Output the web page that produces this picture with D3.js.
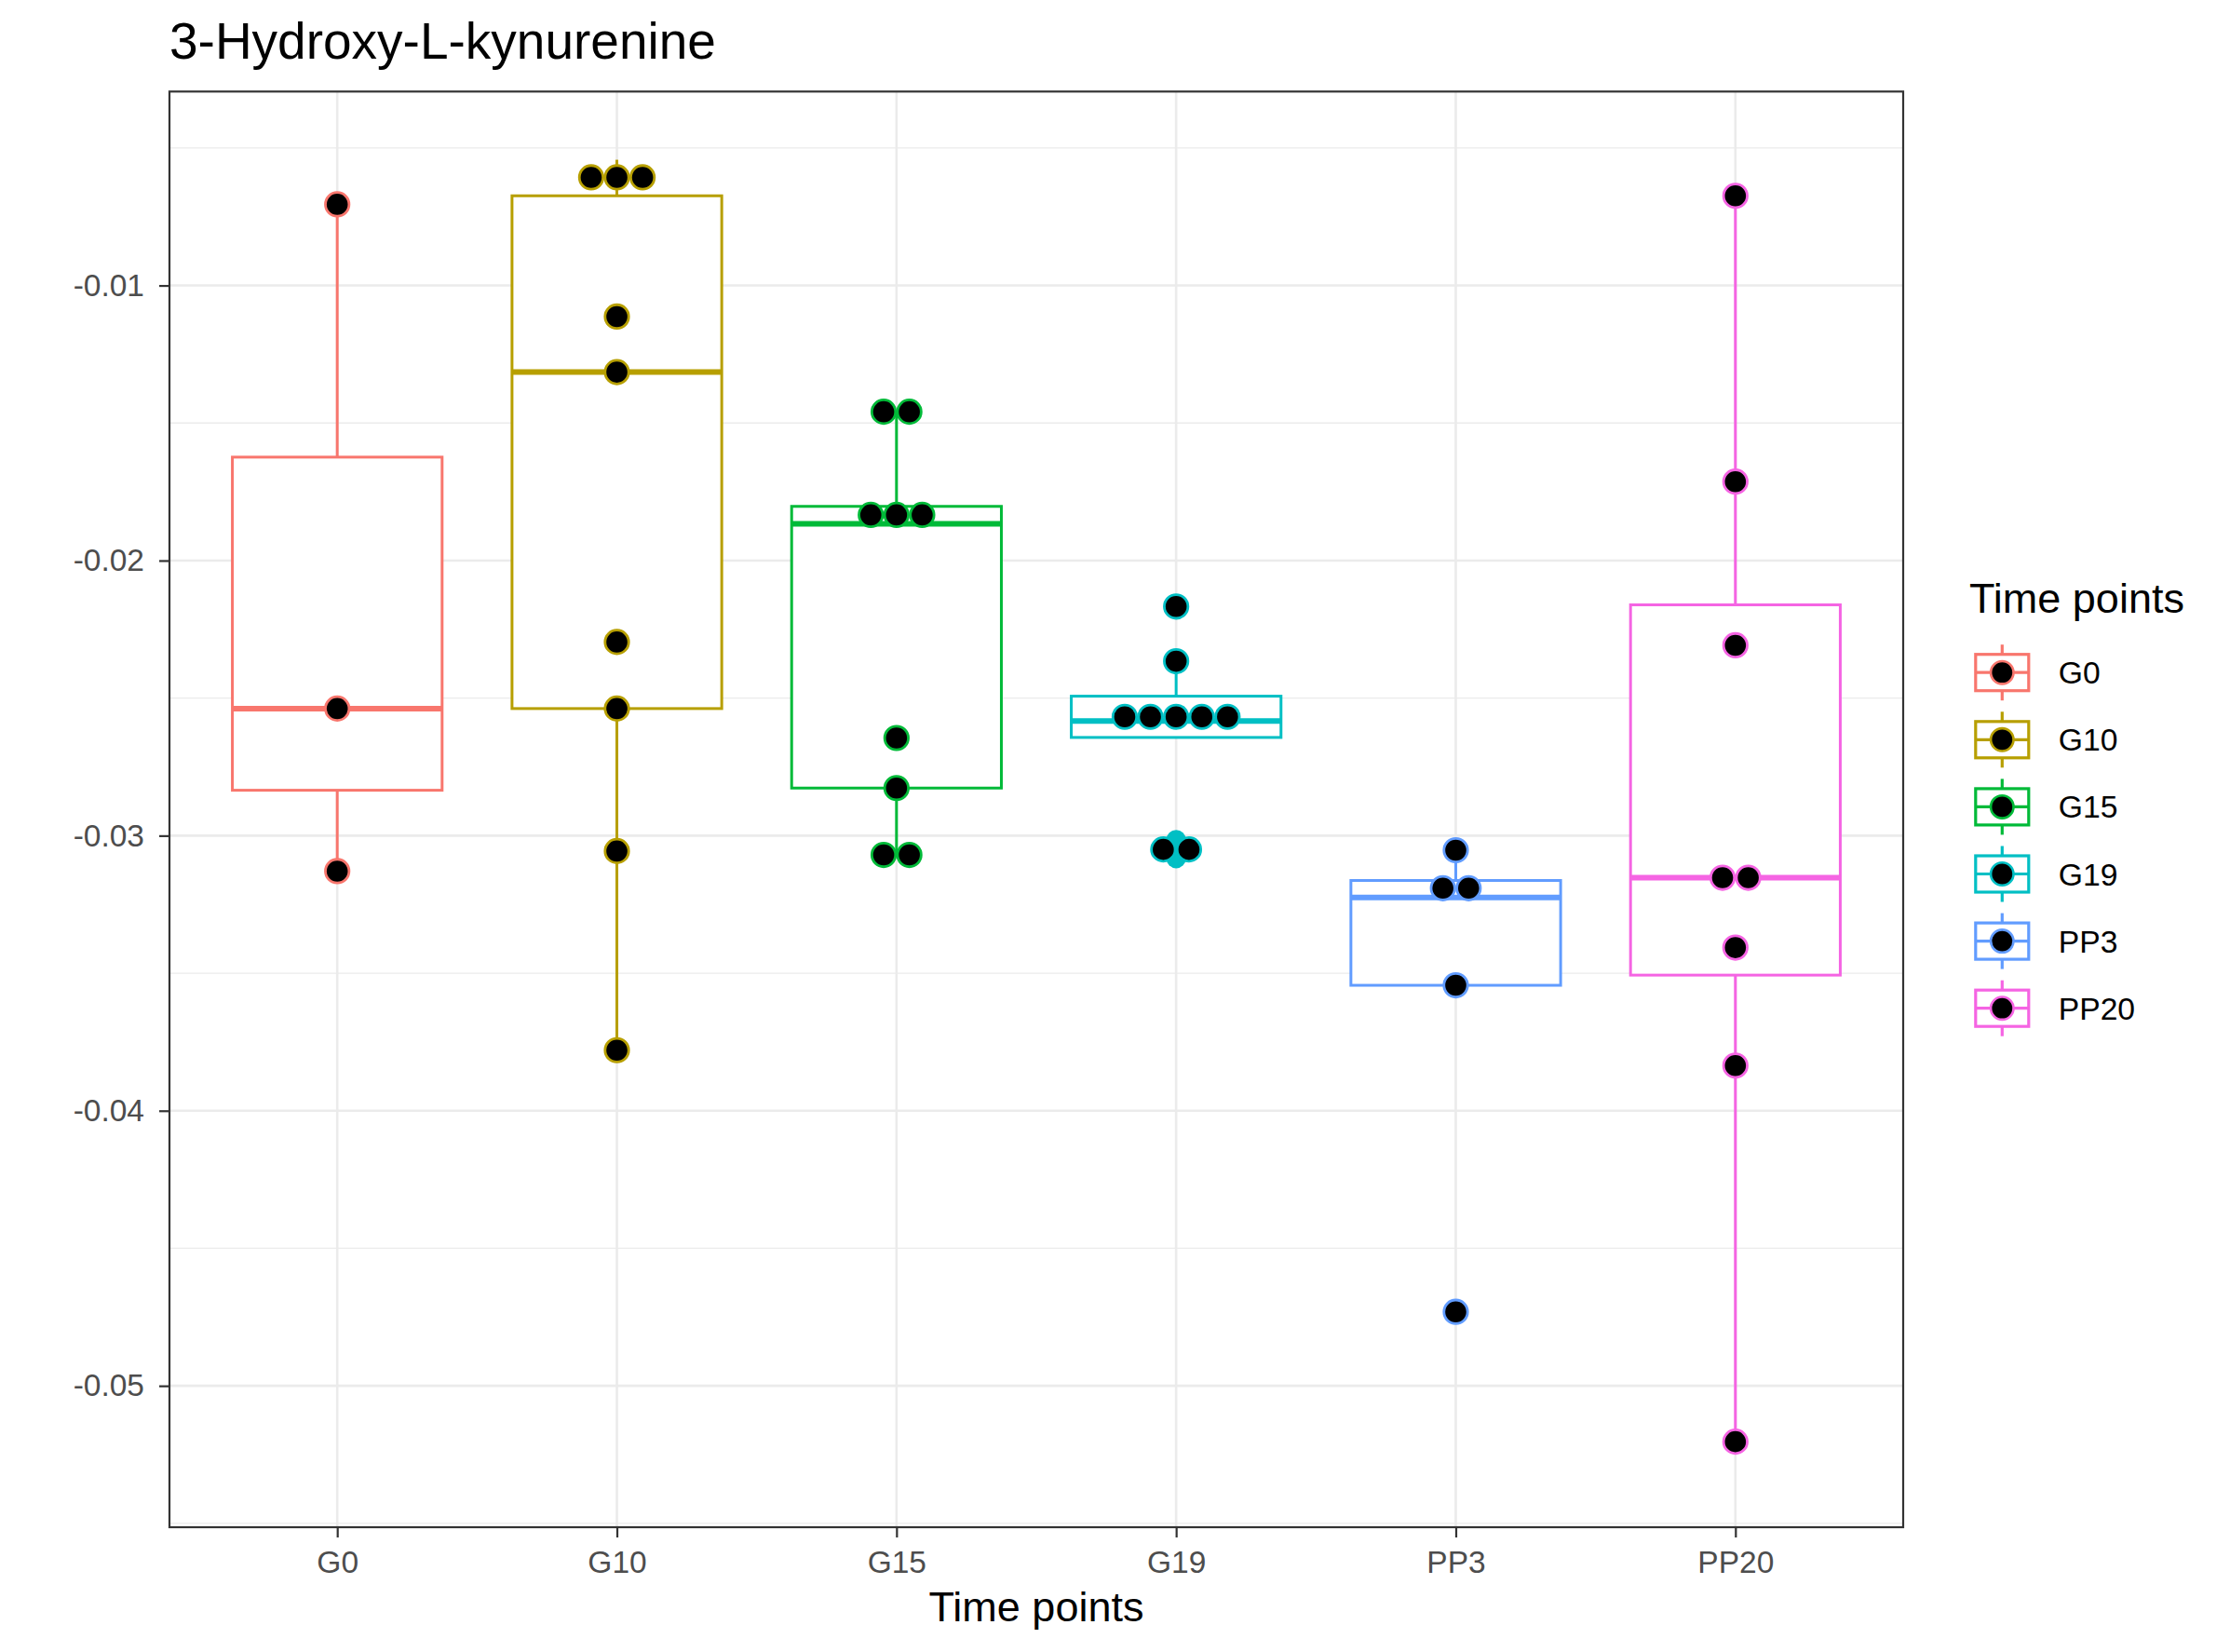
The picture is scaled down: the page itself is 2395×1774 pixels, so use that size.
<!DOCTYPE html>
<html><head><meta charset="utf-8">
<script src="https://cdn.jsdelivr.net/npm/d3@7"></script>
<style>
body{margin:0;background:#fff}
text{font-family:"Liberation Sans",Arial,Helvetica,sans-serif}
</style>
</head><body><svg id="chart" width="2395" height="1774"></svg>
<script>
// ---------------- data ----------------
const categories = ["G0", "G10", "G15", "G19", "PP3", "PP20"];
const groupColors = ["#F8766D", "#B79F00", "#00BA38", "#00BFC4", "#619CFF", "#F564E3"];

// box-plot five-number summaries (per category, same order)
const whiskerLow  = [-0.03129, -0.03780, -0.03070, -0.02643, -0.03544, -0.05203];
const quartile1   = [-0.02835, -0.02538, -0.02827, -0.02643, -0.03544, -0.03507];
const medians     = [-0.02538, -0.01315, -0.01866, -0.02583, -0.03225, -0.03153];
const quartile3   = [-0.01624, -0.00674, -0.01803, -0.02493, -0.03163, -0.02161];
const whiskerHigh = [-0.00705, -0.00543, -0.01459, -0.02366, -0.03053, -0.00674];

// dot-plot values (binned), one entry per sample
const dotsG0   = [-0.00705, -0.02538, -0.03129];
const dotsG10  = [-0.00607, -0.00607, -0.00607, -0.01113, -0.01315, -0.02296, -0.02538, -0.03056, -0.03780];
const dotsG15  = [-0.01459, -0.01459, -0.01834, -0.01834, -0.01834, -0.02645, -0.02827, -0.03070, -0.03070];
const dotsG19  = [-0.02167, -0.02366, -0.02568, -0.02568, -0.02568, -0.02568, -0.02568, -0.03050, -0.03050];
const dotsPP3  = [-0.03053, -0.03191, -0.03191, -0.03544, -0.04731];
const dotsPP20 = [-0.00674, -0.01713, -0.02308, -0.03153, -0.03153, -0.03407, -0.03836, -0.05203];

// box-plot outliers (raw values)
const outliersG19 = [-0.02167, -0.03015, -0.03083];
const outliersPP3 = [-0.04731];

const yTickValues = [-0.05, -0.04, -0.03, -0.02, -0.01];
const yTickLabels = ["-0.05", "-0.04", "-0.03", "-0.02", "-0.01"];
const yMinorValues = [-0.055, -0.045, -0.035, -0.025, -0.015, -0.005];

const chartTitle = "3-Hydroxy-L-kynurenine";
const xTitle = "Time points";
const legendTitle = "Time points";

// ---------------- layout ----------------
const svg = d3.select("#chart");
const P = {left: 182, right: 2044, top: 98.3, bottom: 1640};
const font = '"Liberation Sans", Arial, Helvetica, sans-serif';

const x = d3.scalePoint().domain(categories).range([P.left, P.right]).padding(0.6);
const y = d3.scaleLinear().domain([-0.05514, -0.00295]).range([P.bottom, P.top]);
const color = d3.scaleOrdinal().domain(categories).range(groupColors);
const step = x.step();
const boxW = step * 0.75;

const dotsByGroup = {G0: dotsG0, G10: dotsG10, G15: dotsG15, G19: dotsG19, PP3: dotsPP3, PP20: dotsPP20};
const outliersByGroup = {G19: outliersG19, PP3: outliersPP3};

// title
svg.append("text").attr("x", P.left).attr("y", 63)
  .attr("font-size", 55).attr("fill", "#000").text(chartTitle);

// grid
const gGrid = svg.append("g");
gGrid.selectAll(".minor").data(yMinorValues).join("line")
  .attr("x1", P.left).attr("x2", P.right).attr("y1", d => y(d)).attr("y2", d => y(d))
  .attr("stroke", "#EBEBEB").attr("stroke-width", 1.3);
gGrid.selectAll(".majory").data(yTickValues).join("line")
  .attr("x1", P.left).attr("x2", P.right).attr("y1", d => y(d)).attr("y2", d => y(d))
  .attr("stroke", "#EBEBEB").attr("stroke-width", 2.6);
gGrid.selectAll(".majorx").data(categories).join("line")
  .attr("y1", P.top).attr("y2", P.bottom).attr("x1", d => x(d)).attr("x2", d => x(d))
  .attr("stroke", "#EBEBEB").attr("stroke-width", 2.6);

// box plots
const boxData = categories.map((c, i) => ({
  c, lo: whiskerLow[i], q1: quartile1[i], med: medians[i], q3: quartile3[i], hi: whiskerHigh[i]
}));
const gBox = svg.append("g");
boxData.forEach(b => {
  const cx = x(b.c), col = color(b.c);
  const g = gBox.append("g");
  g.append("line").attr("x1", cx).attr("x2", cx).attr("y1", y(b.q3)).attr("y2", y(b.hi))
    .attr("stroke", col).attr("stroke-width", 3);
  g.append("line").attr("x1", cx).attr("x2", cx).attr("y1", y(b.q1)).attr("y2", y(b.lo))
    .attr("stroke", col).attr("stroke-width", 3);
  g.append("rect").attr("x", cx - boxW / 2).attr("width", boxW)
    .attr("y", y(b.q3)).attr("height", y(b.q1) - y(b.q3))
    .attr("fill", "#fff").attr("stroke", col).attr("stroke-width", 3);
  g.append("line").attr("x1", cx - boxW / 2).attr("x2", cx + boxW / 2)
    .attr("y1", y(b.med)).attr("y2", y(b.med))
    .attr("stroke", col).attr("stroke-width", 6);
});

// outliers
const gOut = svg.append("g");
Object.entries(outliersByGroup).forEach(([c, vals]) => {
  gOut.selectAll(null).data(vals).join("circle")
    .attr("cx", x(c)).attr("cy", d => y(d)).attr("r", 10.5).attr("fill", color(c));
});

// dot plot (centered stacks)
const dotSpacing = 27.6;
const gDots = svg.append("g");
categories.forEach(c => {
  const counts = d3.rollups(dotsByGroup[c], v => v.length, d => d);
  const pts = [];
  counts.forEach(([v, k]) => {
    for (let j = 0; j < k; j++) pts.push({v, off: (j - (k - 1) / 2) * dotSpacing});
  });
  gDots.selectAll(null).data(pts).join("circle")
    .attr("cx", d => x(c) + d.off).attr("cy", d => y(d.v)).attr("r", 12.7)
    .attr("fill", "#000").attr("stroke", color(c)).attr("stroke-width", 2.8);
});

// panel border
svg.append("rect").attr("x", P.left).attr("y", P.top)
  .attr("width", P.right - P.left).attr("height", P.bottom - P.top)
  .attr("fill", "none").attr("stroke", "#333333").attr("stroke-width", 2.2);

// axes
const yAxis = d3.axisLeft(y).tickValues(yTickValues)
  .tickFormat((d, i) => yTickLabels[i]).tickSize(11).tickPadding(16);
const gy = svg.append("g").attr("transform", `translate(${P.left},0)`).call(yAxis);
gy.select(".domain").remove();
gy.selectAll(".tick line").attr("stroke", "#333333").attr("stroke-width", 2.2);
gy.selectAll(".tick text").attr("fill", "#4D4D4D").attr("font-size", 33.5)
  .attr("font-family", font);

const xAxis = d3.axisBottom(x).tickSize(11).tickPadding(14);
const gx = svg.append("g").attr("transform", `translate(0,${P.bottom})`).call(xAxis);
gx.select(".domain").remove();
gx.selectAll(".tick line").attr("stroke", "#333333").attr("stroke-width", 2.2);
gx.selectAll(".tick text").attr("fill", "#4D4D4D").attr("font-size", 33.5)
  .attr("font-family", font);

// x title
svg.append("text").attr("x", (P.left + P.right) / 2).attr("y", 1741)
  .attr("text-anchor", "middle").attr("font-size", 45).attr("fill", "#000").text(xTitle);

// legend
const gLeg = svg.append("g");
gLeg.append("text").attr("x", 2115).attr("y", 658).attr("font-size", 45)
  .attr("fill", "#000").text(legendTitle);
const keyX = 2150.3, keyY0 = 722.2, keyStep = 72.1;
categories.forEach((c, i) => {
  const cy = keyY0 + i * keyStep, col = color(c);
  const g = gLeg.append("g");
  g.append("line").attr("x1", keyX).attr("x2", keyX).attr("y1", cy - 30).attr("y2", cy + 30)
    .attr("stroke", col).attr("stroke-width", 3.2);
  g.append("rect").attr("x", keyX - 28.5).attr("y", cy - 19.5).attr("width", 57).attr("height", 39)
    .attr("fill", "#fff").attr("stroke", col).attr("stroke-width", 3.2);
  g.append("line").attr("x1", keyX - 28.5).attr("x2", keyX + 28.5).attr("y1", cy).attr("y2", cy)
    .attr("stroke", col).attr("stroke-width", 3.2);
  g.append("circle").attr("cx", keyX).attr("cy", cy).attr("r", 12.2)
    .attr("fill", "#000").attr("stroke", col).attr("stroke-width", 2.6);
  g.append("text").attr("x", 2210.7).attr("y", cy + 12).attr("font-size", 33.7)
    .attr("fill", "#000").text(c);
});
</script>
</body></html>
